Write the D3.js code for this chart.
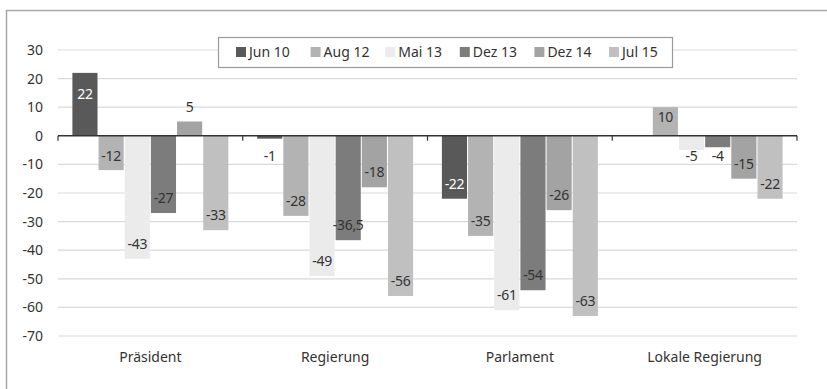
<!DOCTYPE html>
<html><head><meta charset="utf-8">
<script src="https://cdn.jsdelivr.net/npm/d3@7"></script>
<style>body{margin:0;background:#fff}svg{display:block}</style>
</head><body>
<svg id="c" width="827" height="389"></svg>
<script>
const categories = ["Präsident", "Regierung", "Parlament", "Lokale Regierung"];
const seriesNames = ["Jun 10", "Aug 12", "Mai 13", "Dez 13", "Dez 14", "Jul 15"];
const jun10 = [22, -1, -22, null];
const aug12 = [-12, -28, -35, 10];
const mai13 = [-43, -49, -61, -5];
const dez13 = [-27, -36.5, -54, -4];
const dez14 = [5, -18, -26, -15];
const jul15 = [-33, -56, -63, -22];
const yTicks = [30, 20, 10, 0, -10, -20, -30, -40, -50, -60, -70];
const colors = ["#595959", "#b3b3b3", "#ebebeb", "#7c7c7c", "#a3a3a3", "#c0c0c0"];
const textColors = ["#fff", "#333", "#333", "#333", "#333", "#333"];
const series = [jun10, aug12, mai13, dez13, dez14, jul15];

const svg = d3.select("#c");
const font = "'Noto Sans', sans-serif";
const L = 58, R = 797;
const y = d3.scaleLinear().domain([-70, 30]).range([336, 50]);
const x0 = d3.scaleBand().domain(categories).range([L, R]).paddingInner(0).paddingOuter(0);
const x1 = d3.scaleBand().domain(seriesNames).range([0, x0.bandwidth()]).paddingOuter(0.55).paddingInner(0.04);

// frame
svg.append("path").attr("d", `M6.5,${389} V10.5 H827`).attr("fill", "none").attr("stroke", "#a8a8a8").attr("stroke-width", 1.5);

// gridlines
svg.append("g").selectAll("line").data(yTicks.filter(d => d !== 0)).join("line")
  .attr("x1", L).attr("x2", R).attr("y1", d => y(d)).attr("y2", d => y(d))
  .attr("stroke", "#d9d9d9").attr("stroke-width", 1.2);

// y labels
svg.append("g").selectAll("text").data(yTicks).join("text")
  .attr("x", 43).attr("y", d => y(d)).attr("dy", "0.35em").attr("text-anchor", "end")
  .attr("font-family", font).attr("font-size", 14).attr("fill", "#333").text(d => d);

// bars
const data = [];
categories.forEach((c, i) => seriesNames.forEach((s, j) => {
  const v = series[j][i];
  if (v !== null) data.push({c, s, j, v});
}));
const g = svg.append("g");
g.selectAll("rect").data(data).join("rect")
  .attr("x", d => x0(d.c) + x1(d.s)).attr("width", x1.bandwidth())
  .attr("y", d => y(Math.max(0, d.v))).attr("height", d => Math.abs(y(d.v) - y(0)))
  .attr("fill", d => colors[d.j]);

// zero axis
svg.append("line").attr("x1", L).attr("x2", R).attr("y1", y(0)).attr("y2", y(0))
  .attr("stroke", "#333").attr("stroke-width", 1.5);
const bounds = categories.map(c => x0(c)).concat([R]);
svg.append("g").selectAll("line").data(bounds).join("line")
  .attr("x1", d => d).attr("x2", d => d).attr("y1", y(0)).attr("y2", y(0) + 5)
  .attr("stroke", "#333").attr("stroke-width", 1.2);

// value labels
const fmt = v => String(v).replace(".", ",");
function labelPos(d) {
  const end = y(d.v), zero = y(0), h = Math.abs(end - zero);
  if (d.v > 0) return h > 20 ? {y: end + h / 3, inside: true} : {y: end - 14, inside: false};
  const p = end - 15;
  return p >= zero + 20 ? {y: p, inside: true} : {y: zero + 20, inside: end > zero + 28};
}
g.selectAll("text").data(data).join("text")
  .attr("x", d => x0(d.c) + x1(d.s) + x1.bandwidth() / 2)
  .attr("y", d => labelPos(d).y)
  .attr("dy", "0.35em").attr("text-anchor", "middle")
  .attr("font-family", font).attr("font-size", 14)
  .attr("fill", d => labelPos(d).inside ? textColors[d.j] : "#333")
  .attr("letter-spacing", "-0.3")
  .text(d => fmt(d.v));

// category labels
svg.append("g").selectAll("text").data(categories).join("text")
  .attr("x", d => x0(d) + x0.bandwidth() / 2).attr("y", 357).attr("dy", "0.35em")
  .attr("text-anchor", "middle").attr("font-family", font).attr("font-size", 14)
  .attr("fill", "#333").text(d => d);

// legend
const lg = svg.append("g");
lg.append("rect").attr("x", 218.5).attr("y", 37.5).attr("width", 454).attr("height", 30)
  .attr("fill", "#fff").attr("stroke", "#9a9a9a").attr("stroke-width", 1.2);
const items = lg.selectAll("g").data(seriesNames).join("g")
  .attr("transform", (d, i) => `translate(${236 + i * 74.6},52)`);
items.append("rect").attr("x", 0).attr("y", -5).attr("width", 10).attr("height", 10)
  .attr("fill", (d, i) => colors[i]);
items.append("text").attr("x", 13).attr("dy", "0.35em").attr("font-family", font)
  .attr("font-size", 14).attr("fill", "#333").text(d => d);
</script>
</body></html>
